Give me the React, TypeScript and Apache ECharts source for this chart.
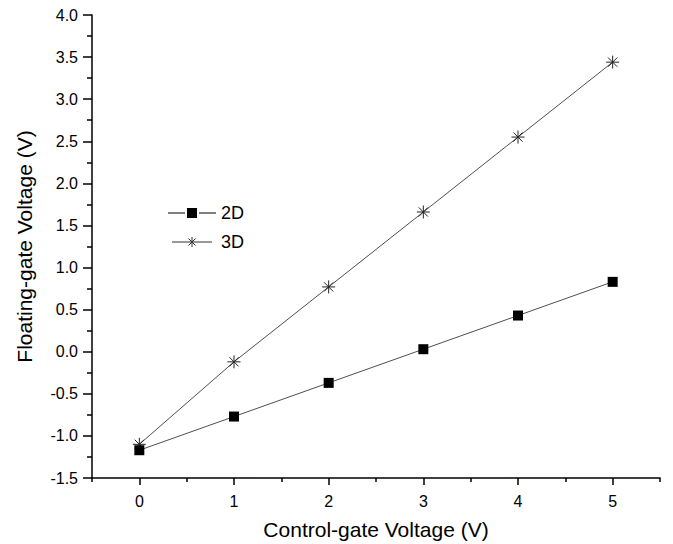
import React, { useEffect, useRef } from "react";
import * as echarts from "echarts";

const xValues = [0, 1, 2, 3, 4, 5];
const series2D = [-1.17, -0.77, -0.37, 0.03, 0.43, 0.83];
const series3D = [-1.1, -0.12, 0.77, 1.66, 2.55, 3.44];
const xMajorTicks = [0, 1, 2, 3, 4, 5];
const xMinorTicks = [-0.5, 0.5, 1.5, 2.5, 3.5, 4.5, 5.5];
const seriesNames = ["2D", "3D"];

const FONT = "'Liberation Sans', Arial, Helvetica, sans-serif";
const STAR = "path://M6 0L6 12M0 6L12 6M1.76 1.76L10.24 10.24M1.76 10.24L10.24 1.76";
const LEGEND_2D = "path://M0 4.5H17V5.5H0Z M19 0H29V10H19Z M31 4.5H48V5.5H31Z";
const LEGEND_3D = "path://M0 5H18 M30 5H48 M24 -1V11 M18 5H30 M19.76 0.76L28.24 9.24 M19.76 9.24L28.24 0.76";

export default function App() {
  const ref = useRef<HTMLDivElement>(null);
  useEffect(() => {
    if (!ref.current) return;
    const chart = echarts.init(ref.current, undefined, { renderer: "svg" });
    const pts2D = xValues.map((x, i) => [x, series2D[i]]);
    const pts3D = xValues.map((x, i) => [x, series3D[i]]);
    chart.setOption({
      animation: false,
      backgroundColor: "#fff",
      textStyle: { fontFamily: FONT },
      grid: { left: 92, top: 15, right: 13, bottom: 66, containLabel: false, outerBoundsMode: "none" },
      legend: {
        data: [
          { name: seriesNames[0], icon: LEGEND_2D, itemStyle: { color: "#000", borderWidth: 0 } },
          { name: seriesNames[1], icon: LEGEND_3D, itemStyle: { color: "#333", borderColor: "#333", borderWidth: 1 } },
        ],
        orient: "vertical",
        left: 163,
        top: 199,
        itemWidth: 48,
        itemHeight: 10,
        itemGap: 11,
        symbolKeepAspect: true,
        textStyle: { fontFamily: FONT, fontSize: 18, color: "#000" },
      },
      xAxis: [
        {
          type: "value",
          min: -0.5,
          max: 5.5,
          name: "Control-gate Voltage (V)",
          nameLocation: "middle",
          nameGap: 41,
          nameMoveOverlap: false,
          nameTextStyle: { fontFamily: FONT, fontSize: 21, color: "#000" },
          splitLine: { show: false },
          axisLine: { show: true, onZero: false, lineStyle: { color: "#000", width: 1.5 } },
          axisTick: { show: true, customValues: xMajorTicks, length: 7, lineStyle: { color: "#000", width: 1.5 } },
          axisLabel: { customValues: xMajorTicks, margin: 15, fontSize: 16, color: "#000", fontFamily: FONT },
        },
        {
          type: "value",
          min: -0.5,
          max: 5.5,
          position: "bottom",
          splitLine: { show: false },
          axisLine: { show: false, onZero: false },
          axisTick: { show: true, customValues: xMinorTicks, length: 4, lineStyle: { color: "#000", width: 1.5 } },
          axisLabel: { show: false },
        },
      ],
      yAxis: {
        type: "value",
        min: -1.5,
        max: 4,
        interval: 0.5,
        name: "Floating-gate Voltage (V)",
        nameLocation: "middle",
        nameGap: 57,
        nameMoveOverlap: false,
        nameTextStyle: { fontFamily: FONT, fontSize: 21, color: "#000" },
        splitLine: { show: false },
        axisLine: { show: true, onZero: false, lineStyle: { color: "#000", width: 1.5 } },
        axisTick: { show: true, length: 9, lineStyle: { color: "#000", width: 1.5 } },
        minorTick: { show: true, splitNumber: 2, length: 5, lineStyle: { color: "#000", width: 1.5 } },
        axisLabel: {
          margin: 14,
          fontSize: 16,
          color: "#000",
          fontFamily: FONT,
          formatter: (v: number) => v.toFixed(1),
        },
      },
      series: [
        {
          name: "3D",
          type: "line",
          data: pts3D,
          symbol: STAR,
          symbolSize: 13,
          itemStyle: { color: "#222", borderColor: "#222", borderWidth: 1 },
          lineStyle: { color: "#222", width: 0.8 },
        },
        {
          name: "2D",
          type: "line",
          data: pts2D,
          symbol: "rect",
          symbolSize: 10,
          itemStyle: { color: "#000" },
          lineStyle: { color: "#222", width: 0.8 },
        },
      ],
    });
    return () => chart.dispose();
  }, []);
  return (
    <div
      ref={ref}
      style={{ position: "fixed", left: 0, top: 0, width: 673, height: 544 }}
    />
  );
}
